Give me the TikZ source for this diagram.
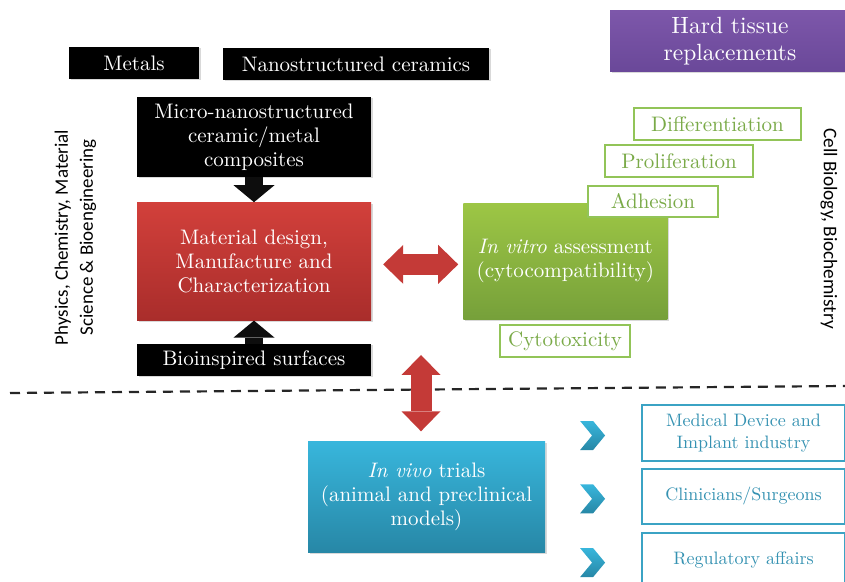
\documentclass[tikz,border=0pt]{standalone}
\usepackage{fontspec}
\usepackage{tikz}
\usetikzlibrary{shapes,arrows.meta,positioning,shadows}

\setmainfont{lmroman10-regular}[Extension=.otf, ItalicFont=lmroman10-italic, BoldFont=lmroman10-bold]
\newfontfamily\sidefont{Carlito}
\newcommand\boxfont{\fontsize{21}{24}\selectfont}
\newcommand\outfont{\fontsize{18}{21.5}\selectfont}
\newcommand\hardfont{\fontsize{23.5}{27}\selectfont}

\definecolor{redtop}{HTML}{D2403B}
\definecolor{redbot}{HTML}{A92D2B}
\definecolor{greentop}{HTML}{9DC645}
\definecolor{greenbot}{HTML}{76A03A}
\definecolor{bluetop}{HTML}{38B6DC}
\definecolor{bluebot}{HTML}{2787A6}
\definecolor{purpletop}{HTML}{7D57AA}
\definecolor{purplebot}{HTML}{6A4899}
\definecolor{greenedge}{HTML}{92C458}
\definecolor{greentext}{HTML}{7AAA48}
\definecolor{blueedge}{HTML}{3BA3C4}
\definecolor{bluetext}{HTML}{3592B2}
\definecolor{arrowred}{HTML}{C43A37}

\begin{document}
\begin{tikzpicture}[x=1pt, y=1pt,
  filled/.style={inner sep=0pt, align=center, text=white, font=\boxfont,
    drop shadow={opacity=0.3, shadow xshift=1.5pt, shadow yshift=-1.5pt}},
  greenout/.style={draw=greenedge, line width=1.8pt, fill=white, text=greentext,
    inner sep=0pt, align=center, font=\boxfont},
  blueout/.style={draw=blueedge, line width=1.8pt, fill=white, text=bluetext,
    inner sep=0pt, align=center, font=\outfont, minimum width=203pt},
  blackarrow/.style={line width=18pt, black!95,
    -{Triangle[length=17pt, width=41pt, line width=0pt]}},
  redarrow/.style={line width=21pt, arrowred,
    {Triangle[length=20pt, width=39pt, line width=0pt]}-{Triangle[length=20pt, width=39pt, line width=0pt]}},
  chevron/.style={top color=bluetop, bottom color=bluebot}]
  \useasboundingbox (0,0) rectangle (845,581);

  % materials side
  \node[filled, fill=black, minimum width=130pt, minimum height=32pt] (metals) at (134,518) {Metals};
  \node[filled, fill=black, minimum width=266pt, minimum height=32pt] (ceramics) at (356,517) {Nanostructured ceramics};
  \node[filled, fill=black, minimum width=234pt, minimum height=80pt] (composites) at (254,444) {Micro-nanostructured\\ceramic/metal\\composites};
  \node[filled, top color=redtop, bottom color=redbot, minimum width=234pt, minimum height=118pt, below=25pt of composites] (design) {Material design,\\Manufacture and\\Characterization};
  \node[filled, fill=black, minimum width=234pt, minimum height=32pt, below=23pt of design] (surfaces) {Bioinspired surfaces};
  \node[rotate=90, align=center, font=\sidefont\fontsize{19}{25}\selectfont] (physics) at (75.5,343.5) {Physics, Chemistry, Material\\Science \& Bioengineering};

  % biology side
  \node[filled, top color=greentop, bottom color=greenbot, minimum width=204pt, minimum height=116pt, right=92pt of design] (vitro) {\textit{In vitro} assessment\\(cytocompatibility)};
  \node[greenout, minimum width=130pt, minimum height=31pt] (adhesion) at (653,379.5) {Adhesion};
  \node[greenout, minimum width=148pt, minimum height=32pt] (proliferation) at (679,420) {Proliferation};
  \node[greenout, minimum width=167pt, minimum height=32pt] (differentiation) at (717.5,457) {Differentiation};
  \node[greenout, minimum width=130pt, minimum height=32pt] (cytotoxicity) at (565,240) {Cytotoxicity};
  \node[filled, top color=purpletop, bottom color=purplebot, minimum width=240pt, minimum height=61pt, font=\hardfont] (hard) at (730,540) {Hard tissue\\replacements};
  \node[rotate=-90, font=\sidefont\fontsize{19.3}{25}\selectfont] (cellbio) at (829,352.5) {Cell Biology, Biochemistry};

  \draw[dash pattern=on 10pt off 7pt, line width=2.2pt, black!85] (10,188) -- (845,195);

  % in vivo and beyond
  \node[filled, top color=bluetop, bottom color=bluebot, minimum width=237pt, minimum height=111pt] (vivo) at (426.5,84) {\textit{In vivo} trials\\(animal and preclinical\\models)};
  \node[blueout, minimum height=56pt] (industry) at (743.5,148) {Medical Device and\\Implant industry};
  \node[blueout, minimum height=55pt, below=6pt of industry] (clinicians) {Clinicians/Surgeons};
  \node[blueout, minimum height=55pt, below=7pt of clinicians] (regulatory) {Regulatory affairs};
  \foreach \b in {industry,clinicians,regulatory}
    \path[chevron] ([xshift=-61pt, yshift=12pt]\b.west) -- ++(13,0) -- ++(12,-14.5) -- ++(-12,-14.5) -- ++(-13,0) -- ++(12,14.5) -- cycle;

  \draw[blackarrow] (composites.south) -- (design.north);
  \draw[blackarrow] (surfaces.north) -- (design.south);
  \draw[redarrow, shorten <=12pt, shorten >=5pt] ([yshift=-3pt]design.east) -- ([yshift=-3pt]vitro.west);
  \coordinate (link) at (421,226);
  \draw[redarrow, shorten >=10pt] (link) -- (link |- vivo.north);
\end{tikzpicture}
\end{document}
